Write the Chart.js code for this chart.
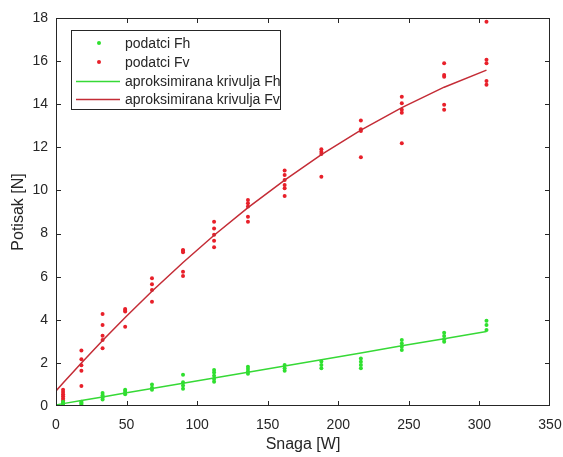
<!DOCTYPE html>
<html>
<head>
<meta charset="utf-8">
<script src="https://cdn.jsdelivr.net/npm/chart.js@4"></script>
<style>
  html, body { margin: 0; padding: 0; background: #fff; }
  #wrap { width: 563px; height: 457px; }
</style>
</head>
<body>
<div id="wrap"><canvas id="potisakChart"></canvas></div>
<script>
  // snaga (W) za svako mjerenje
  const snaga = [5, 18, 33, 49, 68, 90, 112, 136, 162, 188, 216, 245, 275, 305];

  // izmjereni potisak po snazi
  const podatciFh = [
    [0.0, 0.05, 0.1, 0.15, 0.2],
    [0.05, 0.1, 0.15, 0.2],
    [0.3, 0.4, 0.5, 0.6],
    [0.55, 0.62, 0.7, 0.75],
    [0.75, 0.85, 1.0],
    [0.8, 0.95, 1.1, 1.45],
    [1.13, 1.25, 1.4, 1.55, 1.67],
    [1.5, 1.6, 1.72, 1.82],
    [1.64, 1.75, 1.9],
    [1.75, 1.9, 2.06],
    [1.75, 1.9, 2.05, 2.2],
    [2.6, 2.75, 2.9, 3.06],
    [2.98, 3.1, 3.25, 3.4],
    [3.53, 3.76, 3.96]
  ];
  const podatciFv = [
    [0.25, 0.35, 0.45, 0.55, 0.65, 0.75],
    [2.57, 2.17, 1.89, 1.64, 0.93],
    [4.27, 3.76, 3.26, 3.06, 2.68],
    [4.5, 4.45, 4.38, 3.68],
    [5.93, 5.65, 5.38, 4.84],
    [7.24, 7.2, 7.13, 6.23, 6.03],
    [8.55, 8.23, 7.94, 7.67, 7.36],
    [9.56, 9.41, 9.25, 8.78, 8.55],
    [10.92, 10.72, 10.49, 10.25, 10.1, 9.74],
    [11.91, 11.8, 11.69, 10.64],
    [13.24, 12.84, 12.76, 11.54],
    [14.35, 14.05, 13.74, 13.61, 12.19],
    [15.9, 15.36, 15.28, 13.97, 13.74],
    [17.83, 16.06, 15.9, 15.08, 14.9]
  ];

  // aproksimirane krivulje
  const krivuljaX  = [0, 5, 18, 33, 49, 68, 90, 112, 136, 162, 188, 216, 245, 275, 305];
  const krivuljaFh = [0.05, 0.11, 0.25, 0.42, 0.6, 0.81, 1.06, 1.3, 1.57, 1.86, 2.15, 2.46, 2.79, 3.12, 3.46];
  const krivuljaFv = [0.7, 1.07, 2.0, 3.04, 4.11, 5.32, 6.66, 7.92, 9.2, 10.48, 11.66, 12.8, 13.84, 14.79, 15.58];

  const xTicks = [0, 50, 100, 150, 200, 250, 300, 350];
  const yTicks = [0, 2, 4, 6, 8, 10, 12, 14, 16, 18];

  const toPoints = (groups) => groups.flatMap((vals, i) => vals.map(v => ({ x: snaga[i], y: v })));
  const toLine = (ys) => ys.map((y, i) => ({ x: krivuljaX[i], y }));

  const axisColor = '#262626';
  const fontFam = '"Liberation Sans", Arial, sans-serif';

  // okvir i unutarnje crtice kao u MATLAB-u
  const boxPlugin = {
    id: 'boxTicks',
    afterDraw(chart) {
      const { ctx, chartArea: a, scales } = chart;
      ctx.save();
      ctx.strokeStyle = axisColor;
      ctx.lineWidth = 1;
      ctx.strokeRect(a.left + 0.5, a.top + 0.5, a.right - a.left - 1, a.bottom - a.top - 1);
      const len = 5;
      ctx.beginPath();
      xTicks.slice(1, -1).forEach(t => {
        const px = Math.round(scales.x.getPixelForValue(t)) + 0.5;
        ctx.moveTo(px, a.bottom); ctx.lineTo(px, a.bottom - len);
        ctx.moveTo(px, a.top); ctx.lineTo(px, a.top + len);
      });
      yTicks.slice(1, -1).forEach(t => {
        const py = Math.round(scales.y.getPixelForValue(t)) + 0.5;
        ctx.moveTo(a.left, py); ctx.lineTo(a.left + len, py);
        ctx.moveTo(a.right, py); ctx.lineTo(a.right - len, py);
      });
      ctx.stroke();

      // legenda
      const lx = 71.5, ly = 30.5, lw = 209, lh = 79;
      ctx.fillStyle = '#fff';
      ctx.fillRect(lx, ly, lw, lh);
      ctx.strokeStyle = axisColor;
      ctx.strokeRect(lx, ly, lw, lh);
      ctx.font = '14px ' + fontFam;
      ctx.textBaseline = 'middle';
      const rows = [43, 62, 81, 99];
      chart.data.datasets.forEach((ds, i) => {
        const y = rows[i];
        if (ds.showLine) {
          ctx.strokeStyle = ds.borderColor;
          ctx.lineWidth = ds.borderWidth;
          ctx.beginPath();
          ctx.moveTo(76, y + 0.5); ctx.lineTo(120, y + 0.5);
          ctx.stroke();
        } else {
          ctx.fillStyle = ds.backgroundColor;
          ctx.beginPath();
          ctx.arc(99, y, 2, 0, Math.PI * 2);
          ctx.fill();
        }
        ctx.fillStyle = axisColor;
        ctx.fillText(ds.label, 125, y + 1);
      });
      ctx.restore();
    }
  };

  new Chart(document.getElementById('potisakChart').getContext('2d'), {
    type: 'scatter',
    data: {
      datasets: [
        { label: 'podatci Fh', data: toPoints(podatciFh), backgroundColor: '#2fe02f', borderColor: '#2fe02f', pointRadius: 2, pointBorderWidth: 0, showLine: false, order: 2 },
        { label: 'podatci Fv', data: toPoints(podatciFv), backgroundColor: '#e8202a', borderColor: '#e8202a', pointRadius: 2, pointBorderWidth: 0, showLine: false, order: 2 },
        { label: 'aproksimirana krivulja Fh', data: toLine(krivuljaFh), borderColor: '#36d936', backgroundColor: '#36d936', borderWidth: 1.5, pointRadius: 0, showLine: true, order: 1 },
        { label: 'aproksimirana krivulja Fv', data: toLine(krivuljaFv), borderColor: '#c42c36', backgroundColor: '#c42c36', borderWidth: 1.5, pointRadius: 0, showLine: true, order: 1 }
      ]
    },
    options: {
      responsive: true,
      maintainAspectRatio: false,
      animation: false,
      layout: { padding: { top: 18, right: 13, left: 0, bottom: 0 } },
      plugins: {
        legend: { display: false },
        tooltip: { enabled: false }
      },
      scales: {
        x: {
          type: 'linear',
          min: 0, max: 350,
          afterBuildTicks: (s) => { s.ticks = xTicks.map(v => ({ value: v })); },
          afterFit: (s) => { s.height = 51; s.paddingLeft = 0; s.paddingRight = 0; },
          grid: { display: false, drawTicks: false },
          border: { display: false },
          ticks: { color: axisColor, font: { family: fontFam, size: 14 }, padding: 11, maxRotation: 0 },
          title: { display: true, text: 'Snaga [W]', color: axisColor, font: { family: fontFam, size: 16 }, padding: { top: 0, bottom: 3 } }
        },
        y: {
          type: 'linear',
          min: 0, max: 18,
          afterBuildTicks: (s) => { s.ticks = yTicks.map(v => ({ value: v })); },
          afterFit: (s) => { s.width = 56; s.paddingTop = 0; s.paddingBottom = 0; },
          grid: { display: false, drawTicks: false },
          border: { display: false },
          ticks: { color: axisColor, font: { family: fontFam, size: 14 }, padding: 8 },
          title: { display: true, text: 'Potisak [N]', color: axisColor, font: { family: fontFam, size: 16 }, padding: { top: 9, bottom: 0 } }
        }
      }
    },
    plugins: [boxPlugin]
  });
</script>
</body>
</html>
